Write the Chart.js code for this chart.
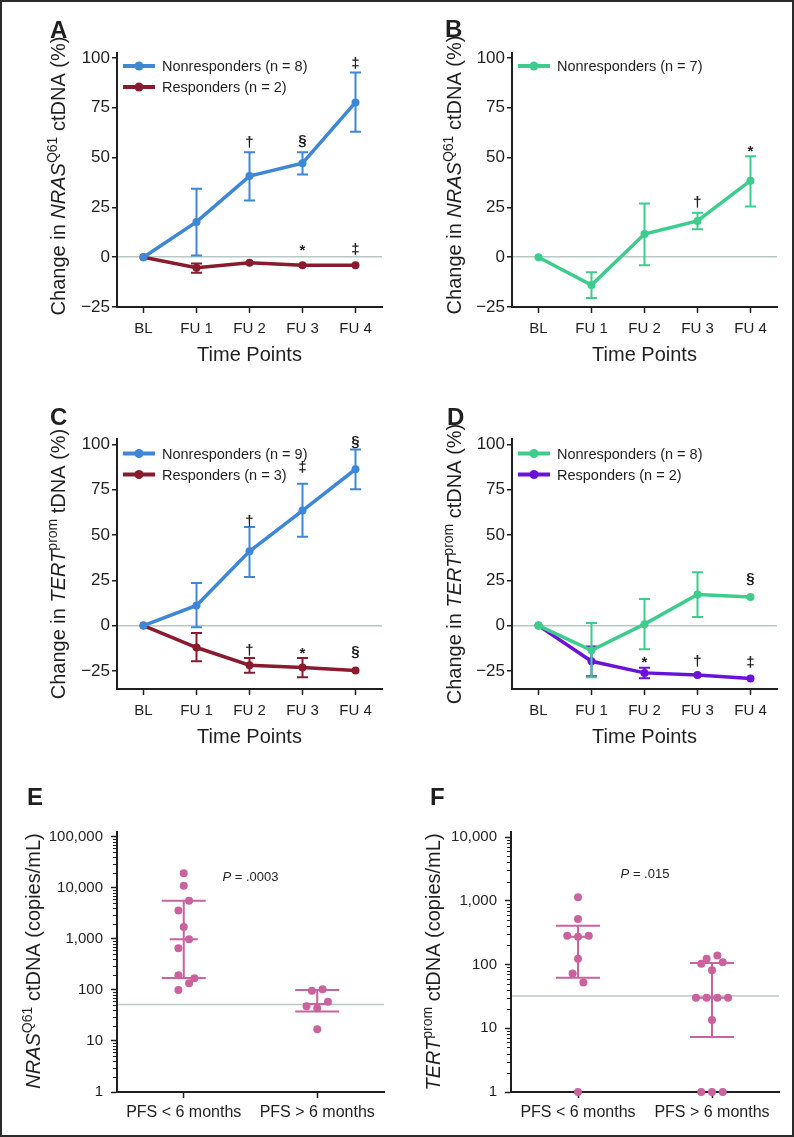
<!DOCTYPE html>
<html>
<head>
<meta charset="utf-8">
<script src="https://cdn.jsdelivr.net/npm/chart.js@4.4.1/dist/chart.umd.min.js"></script>
<style>
  html, body { margin: 0; padding: 0; background: #fff; }
  #page { position: relative; width: 794px; height: 1137px; overflow: hidden; background: #fff; }
  #page canvas { position: absolute; left: 0; top: 0; }
  #frame { position: absolute; left: 0; top: 0; width: 794px; height: 1137px; box-sizing: border-box; border: 2px solid #2b2b2b; pointer-events: none; }
</style>
</head>
<body>
<div id="page"><div id="frame"></div></div>
<script>
// ---- data ----
const timePoints = ["BL", "FU 1", "FU 2", "FU 3", "FU 4"];
const changeTicks = [-25, 0, 25, 50, 75, 100];

// A: NRAS Q61 ctDNA change, nonresponders vs responders
const aNon = [0, 17.7, 40.7, 47.2, 77.7];
const aNonLo = [null, 0.8, 28.5, 41.5, 63];
const aNonHi = [null, 34.3, 52.7, 52.7, 92.7];
const aNonSig = [null, null, "\u2020", "\u00a7", "\u2021"];
const aNonSigAt = [null, null, 57.6, 58.2, 97.7];
const aRes = [0, -5.3, -2.8, -4, -4];
const aResLo = [null, -7.8, null, null, null];
const aResHi = [null, -3.2, null, null, null];
const aResSig = [null, null, null, "*", "\u2021"];
const aResSigAt = [null, null, null, 4.5, 4];

// B: NRAS Q61 ctDNA change, nonresponders only
const bNon = [0, -14, 11.6, 18.2, 38.4];
const bNonLo = [null, -20.5, -4, 14, 25.5];
const bNonHi = [null, -7.5, 27, 22.3, 50.7];
const bNonSig = [null, null, null, "\u2020", "*"];
const bNonSigAt = [null, null, null, 27.7, 54.3];

// C: TERT prom change, nonresponders vs responders
const cNon = [0, 11.1, 41, 63.5, 86.3];
const cNonLo = [null, -0.9, 26.8, 49, 75.2];
const cNonHi = [null, 23.5, 54.4, 78.3, 97.2];
const cNonSig = [null, null, "\u2020", "\u2021", "\u00a7"];
const cNonSigAt = [null, null, 57.7, 87.6, 101.2];
const cRes = [0, -12.1, -21.9, -23.2, -24.8];
const cResLo = [null, -19.7, -26, -28.5, null];
const cResHi = [null, -4.1, -17.9, -17.9, null];
const cResSig = [null, null, "\u2020", "*", "\u00a7"];
const cResSigAt = [null, null, -13.3, -13.8, -14.6];

// D: TERT prom ctDNA change, nonresponders vs responders
const dNon = [0, -13.6, 0.8, 17.2, 15.8];
const dNonLo = [null, -28.5, -13, 4.8, null];
const dNonHi = [null, 1.5, 14.7, 29.4, null];
const dNonSig = [null, null, null, null, "\u00a7"];
const dNonSigAt = [null, null, null, null, 25.3];
const dRes = [0, -19.7, -26.1, -27.3, -29.2];
const dResLo = [null, -28, -29, null, null];
const dResHi = [null, -11.5, -23.3, null, null];
const dResSig = [null, null, "*", "\u2020", "\u2021"];
const dResSigAt = [null, null, -19.2, -19.7, -20];

// E/F: baseline copies/mL by PFS group
const pfsGroups = ["PFS < 6 months", "PFS > 6 months"];
const nrasShortJit = [0, 0, 0.04, -0.04, 0, 0.04, -0.04, -0.04, 0.08, 0.04, -0.04];
const nrasShort = [19500, 11100, 5600, 3600, 1720, 990, 660, 195, 170, 135, 100];
const nrasLongJit = [-0.04, 0.04, 0.08, -0.08, 0, 0];
const nrasLong = [97, 103, 59, 48, 44, 17];
const nrasQ1 = [172, 38];
const nrasMed = [990, 53];
const nrasQ3 = [5600, 100];
const nrasCutoff = 52;
const nrasTicks = [1, 10, 100, 1000, 10000, 100000];

const tertShortJit = [0, 0, -0.08, 0, 0.08, 0, -0.04, 0.04, 0];
const tertShort = [1140, 520, 282, 272, 282, 123, 72, 52, 1];
const tertLongJit = [0.04, -0.04, 0.08, -0.08, 0, -0.12, -0.04, 0.04, 0.12, 0, -0.08, 0, 0.08];
const tertLong = [138, 123, 109, 103, 81, 30, 30, 30, 30, 13.5, 1, 1, 1];
const tertQ1 = [62, 7.3];
const tertMed = [272, 30];
const tertQ3 = [405, 106];
const tertCutoff = 32;
const tertTicks = [1, 10, 100, 1000, 10000];

// ---- look ----
const ink = "#1f1f1f";
const blue = "#3d87d6";
const red = "#8a1a2e";
const green = "#3ccd8c";
const purple = "#6b12da";
const pink = "#c9629d";
const zeroGray = "#b8c9c5";
const family = '"Liberation Sans", Arial, Helvetica, sans-serif';
const axisW = 80;

Chart.defaults.font.family = family;
Chart.defaults.font.size = 15;
Chart.defaults.color = ink;

function makeCanvas() {
  const c = document.createElement("canvas");
  c.width = 794;
  c.height = 1137;
  document.getElementById("page").insertBefore(c, document.getElementById("frame"));
  return c;
}

const errorBars = {
  id: "errorBars",
  beforeDatasetDraw(chart, args) {
    const ds = chart.data.datasets[args.index];
    if (!ds.errLo) return;
    const ctx = chart.ctx;
    const y = chart.scales.y;
    ctx.save();
    ctx.strokeStyle = ds.borderColor;
    ctx.lineWidth = 2;
    args.meta.data.forEach((pt, j) => {
      if (ds.errLo[j] == null) return;
      const top = y.getPixelForValue(ds.errHi[j]);
      const bot = y.getPixelForValue(ds.errLo[j]);
      ctx.beginPath();
      ctx.moveTo(pt.x, top);
      ctx.lineTo(pt.x, bot);
      ctx.moveTo(pt.x - 5.5, top);
      ctx.lineTo(pt.x + 5.5, top);
      ctx.moveTo(pt.x - 5.5, bot);
      ctx.lineTo(pt.x + 5.5, bot);
      ctx.stroke();
    });
    ctx.restore();
  },
};

const sigMarks = {
  id: "sigMarks",
  afterDatasetsDraw(chart) {
    const ctx = chart.ctx;
    const y = chart.scales.y;
    ctx.save();
    ctx.fillStyle = ink;
    ctx.font = "bold 15px " + family;
    ctx.textAlign = "center";
    ctx.textBaseline = "alphabetic";
    chart.data.datasets.forEach((ds, i) => {
      if (!ds.sig) return;
      const meta = chart.getDatasetMeta(i);
      ds.sig.forEach((s, j) => {
        if (!s) return;
        const m = ctx.measureText(s);
        const cy = y.getPixelForValue(ds.sigAt[j]);
        ctx.fillText(s, meta.data[j].x, cy + (m.actualBoundingBoxAscent - m.actualBoundingBoxDescent) / 2);
      });
    });
    ctx.restore();
  },
};

// legend with line + dot, placed inside the plot
function seriesKey(o) {
  return {
    id: "seriesKey",
    afterDraw(chart) {
      const ctx = chart.ctx;
      ctx.save();
      chart.data.datasets.forEach((ds, i) => {
        const y = o.y + i * 21;
        ctx.strokeStyle = ds.borderColor;
        ctx.lineWidth = 4;
        ctx.beginPath();
        ctx.moveTo(o.x, y);
        ctx.lineTo(o.x + 32, y);
        ctx.stroke();
        ctx.fillStyle = ds.borderColor;
        ctx.beginPath();
        ctx.arc(o.x + 16, y, 4.5, 0, Math.PI * 2);
        ctx.fill();
        ctx.fillStyle = ink;
        ctx.font = "14.5px " + family;
        ctx.textBaseline = "middle";
        ctx.fillText(ds.label, o.x + 39, y + 1);
      });
      ctx.restore();
    },
  };
}

// panel letter + rotated y title with italic gene and superscript
function panelText(o) {
  return {
    id: "panelText",
    afterDraw(chart) {
      const ctx = chart.ctx;
      ctx.save();
      ctx.fillStyle = ink;
      ctx.textBaseline = "alphabetic";
      ctx.font = "bold 24px " + family;
      ctx.fillText(o.letter, o.letterX, o.letterY);
      const fontFor = (k) => (k === "s" ? "14px " : k === "i" ? "italic 20px " : "20px ") + family;
      const widths = o.title.map(([t, k]) => {
        ctx.font = fontFor(k);
        return ctx.measureText(t).width;
      });
      const total = widths.reduce((a, b) => a + b, 0);
      ctx.translate(o.titleX, o.titleY);
      ctx.rotate(-Math.PI / 2);
      let x = -total / 2;
      o.title.forEach(([t, k], i) => {
        ctx.font = fontFor(k);
        ctx.fillText(t, x, k === "s" ? -8 : 0);
        x += widths[i];
      });
      ctx.restore();
    },
  };
}

function series(label, color, values, lo, hi, sig, sigAt) {
  return {
    label,
    data: values,
    errLo: lo,
    errHi: hi,
    sig,
    sigAt,
    borderColor: color,
    backgroundColor: color,
    pointBackgroundColor: color,
    borderWidth: 3.5,
    pointRadius: 4,
    pointHoverRadius: 4,
    pointBorderWidth: 0,
    tension: 0,
    clip: false,
  };
}

function changeChart(p) {
  const [l, t, r, b] = p.area;
  return new Chart(makeCanvas(), {
    type: "line",
    data: { labels: timePoints, datasets: p.datasets },
    options: {
      responsive: false,
      animation: false,
      devicePixelRatio: 1,
      events: [],
      layout: { padding: { left: l - axisW, top: t, right: 794 - r, bottom: 1137 - b - 63 } },
      plugins: { legend: { display: false }, tooltip: { enabled: false } },
      scales: {
        x: {
          offset: true,
          afterFit: (s) => {
            s.height = 63;
          },
          border: { color: ink, width: 2 },
          grid: { drawOnChartArea: false, tickLength: 6, tickColor: ink, tickWidth: 1.5 },
          ticks: { font: { size: 15 }, padding: 7, color: ink, maxRotation: 0 },
          title: { display: true, text: "Time Points", font: { size: 20 }, color: ink, padding: { top: 0, bottom: 3 } },
        },
        y: {
          min: p.min,
          max: p.max,
          afterBuildTicks: (s) => {
            s.ticks = changeTicks.map((v) => ({ value: v }));
          },
          afterFit: (s) => {
            s.width = axisW;
          },
          border: { color: ink, width: 2 },
          grid: {
            color: (c) => (c.tick && c.tick.value === 0 ? zeroGray : "rgba(0,0,0,0)"),
            lineWidth: 1.5,
            tickLength: 5,
            tickColor: ink,
            tickWidth: 1.5,
          },
          ticks: {
            font: { size: 17 },
            padding: 2,
            color: ink,
            callback: (v) => (v < 0 ? "\u2212" + Math.abs(v) : String(v)),
          },
        },
      },
    },
    plugins: [errorBars, sigMarks, seriesKey(p.key), panelText(p.text)],
  });
}

// IQR bars, cutoff line, minor log ticks and P value
function dotExtras(p) {
  return {
    id: "dotExtras",
    beforeDatasetsDraw(chart) {
      const { ctx, chartArea: a } = chart;
      const x = chart.scales.x;
      const y = chart.scales.y;
      ctx.save();
      ctx.strokeStyle = zeroGray;
      ctx.lineWidth = 1.6;
      const cy = y.getPixelForValue(p.cutoff);
      ctx.beginPath();
      ctx.moveTo(a.left + 1, cy);
      ctx.lineTo(a.right, cy);
      ctx.stroke();
      ctx.strokeStyle = pink;
      ctx.lineWidth = 2;
      p.q1.forEach((lo, i) => {
        const cx = x.getPixelForValue(i);
        const yl = y.getPixelForValue(lo);
        const yh = y.getPixelForValue(p.q3[i]);
        const ym = y.getPixelForValue(p.med[i]);
        ctx.beginPath();
        ctx.moveTo(cx, yh);
        ctx.lineTo(cx, yl);
        ctx.moveTo(cx - 22, yh);
        ctx.lineTo(cx + 22, yh);
        ctx.moveTo(cx - 22, yl);
        ctx.lineTo(cx + 22, yl);
        ctx.moveTo(cx - 14, ym);
        ctx.lineTo(cx + 14, ym);
        ctx.stroke();
      });
      ctx.restore();
    },
    afterDraw(chart) {
      const { ctx, chartArea: a } = chart;
      const x = chart.scales.x;
      const y = chart.scales.y;
      ctx.save();
      ctx.strokeStyle = ink;
      ctx.lineWidth = 1;
      ctx.beginPath();
      for (let d = 1; d < y.max; d *= 10) {
        for (let m = 2; m <= 9; m++) {
          const v = m * d;
          if (v > y.max) break;
          const py = Math.round(y.getPixelForValue(v)) + 0.5;
          ctx.moveTo(a.left - 4, py);
          ctx.lineTo(a.left, py);
        }
      }
      ctx.stroke();
      // P value
      ctx.fillStyle = ink;
      ctx.textBaseline = "middle";
      ctx.font = "italic 13px " + family;
      const w1 = ctx.measureText("P").width;
      ctx.font = "13px " + family;
      const w2 = ctx.measureText(p.pText).width;
      const px = x.getPixelForValue(p.pAt[0]) - (w1 + w2) / 2;
      const py = y.getPixelForValue(p.pAt[1]);
      ctx.font = "italic 13px " + family;
      ctx.fillText("P", px, py);
      ctx.font = "13px " + family;
      ctx.fillText(p.pText, px + w1, py);
      ctx.restore();
    },
  };
}

function jittered(group, jit, values) {
  return values.map((v, i) => ({ x: group + jit[i], y: v }));
}

function dotChart(p) {
  const [l, t, r, b] = p.area;
  return new Chart(makeCanvas(), {
    type: "scatter",
    data: {
      datasets: [
        {
          data: p.points,
          pointRadius: 4,
          pointHoverRadius: 4,
          pointBackgroundColor: pink,
          pointBorderWidth: 0,
          clip: false,
        },
      ],
    },
    options: {
      responsive: false,
      animation: false,
      devicePixelRatio: 1,
      events: [],
      layout: { padding: { left: l - axisW, top: t, right: 794 - r, bottom: 1137 - b - 40 } },
      plugins: { legend: { display: false }, tooltip: { enabled: false } },
      scales: {
        x: {
          type: "linear",
          min: -0.5,
          max: 1.5,
          afterBuildTicks: (s) => {
            s.ticks = pfsGroups.map((g, i) => ({ value: i }));
          },
          afterFit: (s) => {
            s.height = 40;
          },
          border: { color: ink, width: 2 },
          grid: { drawOnChartArea: false, tickLength: 6, tickColor: ink, tickWidth: 1.5 },
          ticks: { font: { size: 16 }, padding: 5, color: ink, maxRotation: 0, autoSkip: false, callback: (v, i) => pfsGroups[i] },
        },
        y: {
          type: "logarithmic",
          min: 1,
          max: p.max,
          afterBuildTicks: (s) => {
            s.ticks = p.ticks.map((v) => ({ value: v }));
          },
          afterFit: (s) => {
            s.width = axisW;
          },
          border: { color: ink, width: 2 },
          grid: { drawOnChartArea: false, tickLength: 6, tickColor: ink, tickWidth: 1.5 },
          ticks: { font: { size: 15 }, padding: 8, color: ink, callback: (v) => Number(v).toLocaleString("en-US") },
        },
      },
    },
    plugins: [dotExtras(p), panelText(p.text)],
  });
}

const nrasTitle = [["Change in ", ""], ["NRAS", "i"], ["Q61", "s"], [" ctDNA (%)", ""]];

changeChart({
  area: [117, 53, 382, 307],
  min: -25,
  max: 102.5,
  datasets: [
    series("Nonresponders (n = 8)", blue, aNon, aNonLo, aNonHi, aNonSig, aNonSigAt),
    series("Responders (n = 2)", red, aRes, aResLo, aResHi, aResSig, aResSigAt),
  ],
  key: { x: 123, y: 66 },
  text: { letter: "A", letterX: 50, letterY: 38, title: nrasTitle, titleX: 64.5, titleY: 176 },
});

changeChart({
  area: [512, 53, 777, 307],
  min: -25,
  max: 102.5,
  datasets: [series("Nonresponders (n = 7)", green, bNon, bNonLo, bNonHi, bNonSig, bNonSigAt)],
  key: { x: 518, y: 66 },
  text: { letter: "B", letterX: 445, letterY: 37, title: nrasTitle, titleX: 461, titleY: 175 },
});

changeChart({
  area: [117, 439, 382, 689],
  min: -35,
  max: 103,
  datasets: [
    series("Nonresponders (n = 9)", blue, cNon, cNonLo, cNonHi, cNonSig, cNonSigAt),
    series("Responders (n = 3)", red, cRes, cResLo, cResHi, cResSig, cResSigAt),
  ],
  key: { x: 123, y: 453.5 },
  text: {
    letter: "C",
    letterX: 50,
    letterY: 425,
    title: [["Change in ", ""], ["TERT", "i"], ["prom", "s"], [" tDNA (%)", ""]],
    titleX: 64.5,
    titleY: 564,
  },
});

changeChart({
  area: [512, 439, 777, 689],
  min: -35,
  max: 103,
  datasets: [
    series("Nonresponders (n = 8)", green, dNon, dNonLo, dNonHi, dNonSig, dNonSigAt),
    series("Responders (n = 2)", purple, dRes, dResLo, dResHi, dResSig, dResSigAt),
  ],
  key: { x: 518, y: 453.5 },
  text: {
    letter: "D",
    letterX: 447,
    letterY: 425,
    title: [["Change in ", ""], ["TERT", "i"], ["prom", "s"], [" ctDNA (%)", ""]],
    titleX: 461,
    titleY: 564,
  },
});

dotChart({
  area: [117, 832, 384, 1092],
  max: 125000,
  ticks: nrasTicks,
  points: jittered(0, nrasShortJit, nrasShort).concat(jittered(1, nrasLongJit, nrasLong)),
  q1: nrasQ1,
  med: nrasMed,
  q3: nrasQ3,
  cutoff: nrasCutoff,
  pText: " = .0003",
  pAt: [0.5, 16000],
  text: {
    letter: "E",
    letterX: 27,
    letterY: 805,
    title: [["NRAS", "i"], ["Q61", "s"], [" ctDNA (copies/mL)", ""]],
    titleX: 40,
    titleY: 961,
  },
});

dotChart({
  area: [511, 832, 779, 1092],
  max: 12000,
  ticks: tertTicks,
  points: jittered(0, tertShortJit, tertShort).concat(jittered(1, tertLongJit, tertLong)),
  q1: tertQ1,
  med: tertMed,
  q3: tertQ3,
  cutoff: tertCutoff,
  pText: " = .015",
  pAt: [0.5, 2600],
  text: {
    letter: "F",
    letterX: 430,
    letterY: 805,
    title: [["TERT", "i"], ["prom", "s"], [" ctDNA (copies/mL)", ""]],
    titleX: 440,
    titleY: 962,
  },
});
</script>
</body>
</html>
